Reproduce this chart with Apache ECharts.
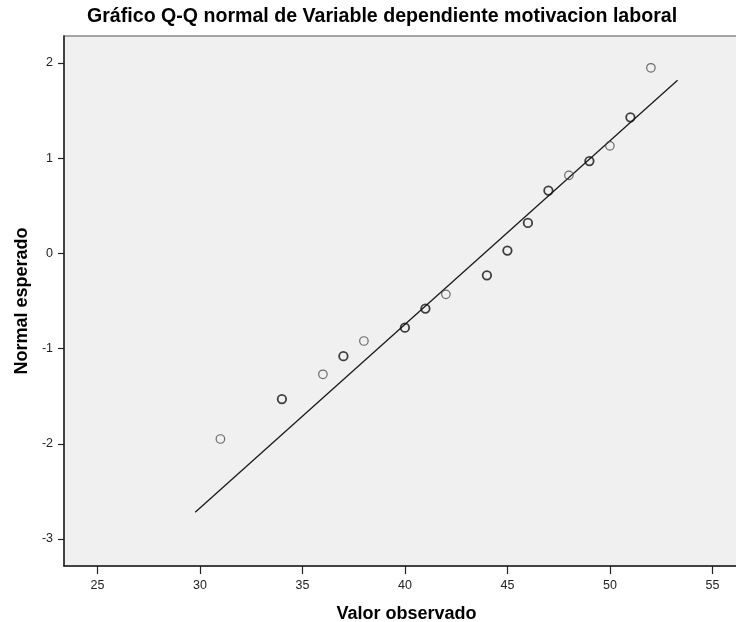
<!DOCTYPE html>
<html>
<head>
<meta charset="utf-8">
<script src="https://cdn.jsdelivr.net/npm/echarts@6/dist/echarts.min.js"></script>
<style>
html,body{margin:0;padding:0;background:#fff;}
#c{width:736px;height:622px;}
</style>
</head>
<body>
<div id="c"></div>
<script>
// Observed values (x) and expected normal quantiles (y)
var observed = [31, 34, 36, 37, 38, 40, 41, 42, 44, 45, 46, 47, 48, 49, 50, 51, 52];
var expected = [-1.95, -1.53, -1.27, -1.08, -0.92, -0.78, -0.58, -0.43, -0.23, 0.03, 0.32, 0.66, 0.82, 0.97, 1.13, 1.43, 1.95];
// Number of cases at each value (ties drawn on top of each other)
var counts = [1, 2, 1, 2, 1, 2, 2, 1, 2, 2, 2, 2, 1, 2, 1, 2, 1];
// Reference line end points
var lineX = [29.77, 53.3];
var lineY = [-2.72, 1.82];
// Tick labels
var xTicks = [25, 30, 35, 40, 45, 50, 55];
var yTicks = [-3, -2, -1, 0, 1, 2];

var titleText = 'Gráfico Q-Q normal de Variable dependiente motivacion laboral';
var xName = 'Valor observado';
var yName = 'Normal esperado';

var font = 'Liberation Sans, Arial, sans-serif';

var pts = observed.map(function (x, i) {
  var tied = counts[i] > 1;
  return {
    value: [x, expected[i]],
    itemStyle: {
      color: 'rgba(0,0,0,0)',
      borderColor: tied ? '#111' : '#4a4a4a',
      borderWidth: tied ? 1.8 : 1.2
    }
  };
});
var lineData = lineX.map(function (x, i) { return [x, lineY[i]]; });

var chart = echarts.init(document.getElementById('c'), null, {renderer: 'canvas'});
chart.setOption({
  animation: false,
  backgroundColor: '#ffffff',
  title: {
    text: titleText,
    left: 82,
    top: 2,
    textStyle: {fontFamily: font, fontSize: 19.6, fontWeight: 'bold', color: '#000'}
  },
  grid: {
    left: 64, top: 36, right: -1, bottom: 56,
    outerBoundsMode: 'none',
    containLabel: false,
    show: true,
    backgroundColor: '#f0f0f0',
    borderColor: '#8a8a8a',
    borderWidth: 1.5
  },
  xAxis: {
    type: 'value',
    min: 23.37, max: 56.2,
    name: xName,
    nameLocation: 'middle',
    nameGap: 39,
    nameTextStyle: {fontFamily: font, fontSize: 18, fontWeight: 'bold', color: '#000', padding: [0, 0, 0, 12]},
    axisLine: {show: true, onZero: false, lineStyle: {color: '#222', width: 1.5}},
    axisTick: {show: true, length: 8, customValues: xTicks, lineStyle: {color: '#222', width: 1.2}},
    axisLabel: {customValues: xTicks, fontFamily: font, fontSize: 12.5, color: '#222', margin: 13},
    splitLine: {show: false}
  },
  yAxis: {
    type: 'value',
    min: -3.284, max: 2.284,
    name: yName,
    nameLocation: 'middle',
    nameGap: 33,
    nameTextStyle: {fontFamily: font, fontSize: 18, fontWeight: 'bold', color: '#000'},
    axisLine: {show: true, onZero: false, lineStyle: {color: '#222', width: 1.5}},
    axisTick: {show: true, length: 6, customValues: yTicks, lineStyle: {color: '#222', width: 1.2}},
    axisLabel: {customValues: yTicks, fontFamily: font, fontSize: 12.5, color: '#222', margin: 11},
    splitLine: {show: false}
  },
  series: [
    {
      type: 'line',
      data: lineData,
      symbol: 'none',
      silent: true,
      lineStyle: {color: '#1a1a1a', width: 1.3},
      z: 2
    },
    {
      type: 'scatter',
      data: pts,
      symbol: 'circle',
      symbolSize: 8.5,
      z: 3
    }
  ]
});
</script>
</body>
</html>
